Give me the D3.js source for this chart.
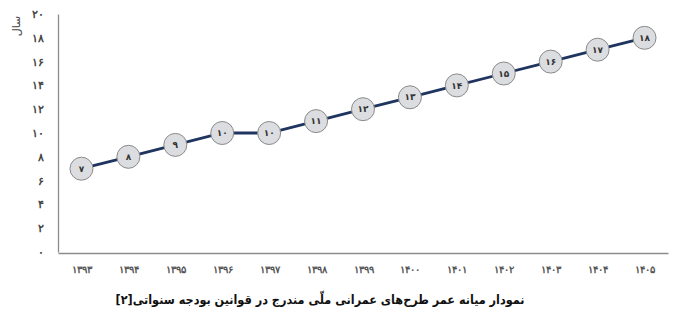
<!DOCTYPE html>
<html>
<head>
<meta charset="utf-8">
<script src="https://cdn.jsdelivr.net/npm/d3@7"></script>
<style>
  body { margin: 0; background: #fff; }
  svg { display: block; font-family: "DejaVu Sans", sans-serif; }
</style>
</head>
<body>
<svg id="chart"></svg>
<script>
const width = 695;
const height = 335;

// data
const years = ["1393", "1394", "1395", "1396", "1397", "1398", "1399", "1400", "1401", "1402", "1403", "1404", "1405"];
const avgAge = [7, 8, 9, 10, 10, 11, 12, 13, 14, 15, 16, 17, 18];
const yTicks = [0, 2, 4, 6, 8, 10, 12, 14, 16, 18, 20];
const title = "نمودار میانه عمر طرح‌های عمرانی ملّی مندرج در قوانین بودجه سنواتی[۲]";
const yLabel = "سال";

const fa = s => String(s).replace(/\d/g, d => "۰۱۲۳۴۵۶۷۸۹"[d]);

const margin = { left: 58, right: 27, top: 14, bottom: 82 };

const svg = d3.select("#chart")
  .attr("width", width)
  .attr("height", height);

const x = d3.scalePoint()
  .domain(years)
  .range([margin.left, width - margin.right])
  .padding(0.5);

const y = d3.scaleLinear()
  .domain([0, 20])
  .range([height - margin.bottom - 1, margin.top]);

const xAxis = d3.axisBottom(x).tickSize(0).tickPadding(13).tickFormat(fa);
const yAxis = d3.axisLeft(y).tickValues(yTicks).tickSize(0).tickPadding(14).tickFormat(fa);

const gx = svg.append("g")
  .attr("transform", `translate(0, ${height - margin.bottom})`)
  .call(xAxis);
gx.select(".domain").attr("stroke", "#8c8c8c").attr("stroke-width", 1.3);
gx.selectAll(".tick text")
  .attr("fill", "#555")
  .style("font-size", "10px")
  .style("font-weight", "bold");

const gy = svg.append("g")
  .attr("transform", `translate(${margin.left}, 0)`)
  .call(yAxis);
gy.select(".domain").attr("stroke", "#8c8c8c").attr("stroke-width", 1.3);
gy.selectAll(".tick text")
  .attr("fill", "#444")
  .style("font-size", "11px")
  .style("font-weight", "bold");

svg.append("text")
  .attr("transform", "translate(20, 26) rotate(-90)")
  .attr("text-anchor", "middle")
  .attr("fill", "#444")
  .style("font-size", "11px")
  .text(yLabel);

const line = d3.line()
  .x((d, i) => x(years[i]))
  .y(d => y(d));

svg.append("path")
  .datum(avgAge)
  .attr("fill", "none")
  .attr("stroke", "#1f3560")
  .attr("stroke-width", 2.8)
  .attr("d", line);

const pts = svg.selectAll(".pt")
  .data(avgAge)
  .enter()
  .append("g")
  .attr("class", "pt")
  .attr("transform", (d, i) => `translate(${x(years[i])}, ${y(d)})`);

pts.append("circle")
  .attr("r", 11.5)
  .attr("fill", "#dcdde0")
  .attr("stroke", "#8a8a8a")
  .attr("stroke-width", 1);

pts.append("text")
  .attr("text-anchor", "middle")
  .attr("dy", "0.35em")
  .attr("fill", "#333")
  .style("font-size", "9px")
  .style("font-weight", "bold")
  .text(d => fa(d));

svg.append("text")
  .attr("x", 320)
  .attr("y", 304)
  .attr("text-anchor", "middle")
  .attr("direction", "rtl")
  .attr("fill", "#111")
  .style("font-family", "'DejaVu Sans Condensed', 'DejaVu Sans', sans-serif")
  .style("font-size", "12.5px")
  .style("font-weight", "bold")
  .text(title);
</script>
</body>
</html>
